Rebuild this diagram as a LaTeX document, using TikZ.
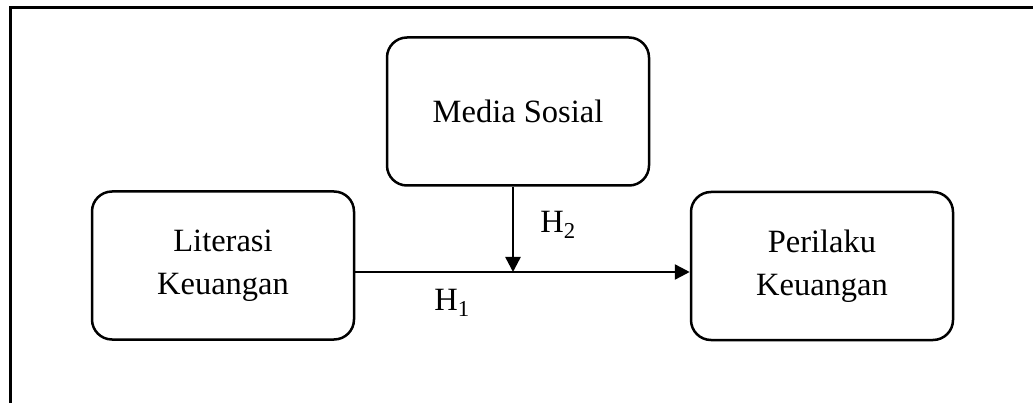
\documentclass[tikz,border=0pt]{standalone}
\usepackage{fontspec}
\setmainfont{Liberation Serif}
\usetikzlibrary{arrows.meta}
\tikzset{
  varbox/.style={draw, line width=2.5pt, rounded corners=20pt, minimum width=262pt, minimum height=148pt, align=center, inner sep=0pt, font=\fontsize{32.5}{43}\selectfont},
  conn/.style={line width=2.5pt, -{Triangle[length=15pt,width=15pt]}},
  hlabel/.style={font=\fontsize{32.5}{40}\selectfont, inner sep=0pt}
}
\begin{document}
\begin{tikzpicture}[x=1pt,y=-1pt]
\useasboundingbox (0,0) rectangle (1033,403);
\draw[line width=3pt] (10,404) -- (10,8) -- (1034,8);
\node[varbox] (media) at (518,111.5) {Media Sosial};
\node[varbox] (lit) at (223,265.5) {Literasi\\Keuangan};
\node[varbox] (per) at (822,266) {Perilaku\\Keuangan};
\coordinate (h) at (0,272);
\coordinate (m) at (513,272);
\draw[conn] (lit.east |- h) -- (per.west |- h);
\draw[conn] (media.south -| m) -- (m);
\node[hlabel] (h2) at (558,225) {H\textsubscript{2}};
\node[hlabel] (h1) at (452,303) {H\textsubscript{1}};
\end{tikzpicture}
\end{document}
